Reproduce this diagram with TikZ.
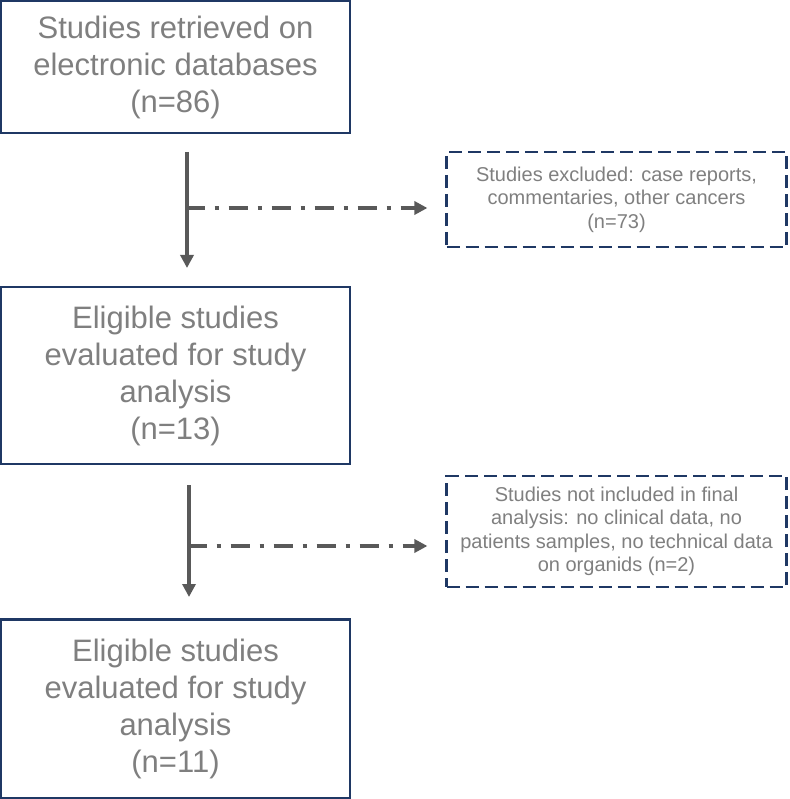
\documentclass[tikz,border=0pt]{standalone}
\usepackage{fontspec}
\setmainfont{Liberation Sans}
\usetikzlibrary{arrows.meta}
\definecolor{navy}{HTML}{1F3864}
\definecolor{txtgray}{HTML}{7F7F7F}
\definecolor{arrgray}{HTML}{595959}
\tikzset{
  mainbox/.style={draw=navy, line width=2.5pt, inner sep=0pt, align=center,
    text=txtgray, font=\fontsize{31}{37}\selectfont},
  sidebox/.style={draw=navy, line width=2.2pt, dash pattern=on 13pt off 6pt, inner sep=0pt,
    align=center, text=txtgray, font=\fontsize{20}{23.5}\selectfont},
  flowarrow/.style={draw=arrgray, line width=3.3pt, -{Triangle[length=13pt,width=13pt]}},
  sidearrow/.style={draw=arrgray, line width=4pt, dash pattern=on 19pt off 10pt on 4pt off 10pt,
    -{Triangle[length=13pt,width=13pt]}, shorten >=0pt},
}
\begin{document}
\begin{tikzpicture}[x=1pt,y=-1pt]
\useasboundingbox (0,0) rectangle (789,799);
\node[mainbox, minimum width=349pt, minimum height=132pt] (b1) at (175.5,67)
  {Studies retrieved on\\electronic databases\\(n=86)};
\node[sidebox, minimum width=340pt, minimum height=95pt] (b2) at (616.5,199.5)
  {Studies excluded: case reports,\\commentaries, other cancers\\(n=73)};
\node[mainbox, minimum width=349pt, minimum height=177pt] (b3) at (175.5,375.5)
  {Eligible studies\\evaluated for study\\analysis\\(n=13)};
\node[sidebox, minimum width=340pt, minimum height=111pt] (b4) at (616.5,531.5)
  {Studies not included in final\\analysis: no clinical data, no\\patients samples, no technical data\\on organids (n=2)};
\node[mainbox, minimum width=349pt, minimum height=179pt] (b5) at (175.5,709)
  {Eligible studies\\evaluated for study\\analysis\\(n=11)};
% connectors
\coordinate (a1s) at (187,152);
\coordinate (a1e) at (187,268);
\coordinate (j1) at (187,208);
\coordinate (t1) at ([xshift=-18pt]b2.west |- j1);
\coordinate (a2s) at (189,485);
\coordinate (a2e) at (189,597);
\coordinate (j2) at (189,546);
\coordinate (t2) at ([xshift=-18pt]b4.west |- j2);
\draw[flowarrow] (a1s) -- (a1e);
\draw[sidearrow] ([xshift=-1.5pt]j1) -- (t1);
\draw[flowarrow] (a2s) -- (a2e);
\draw[sidearrow] ([xshift=-1.5pt]j2) -- (t2);
\end{tikzpicture}
\end{document}
